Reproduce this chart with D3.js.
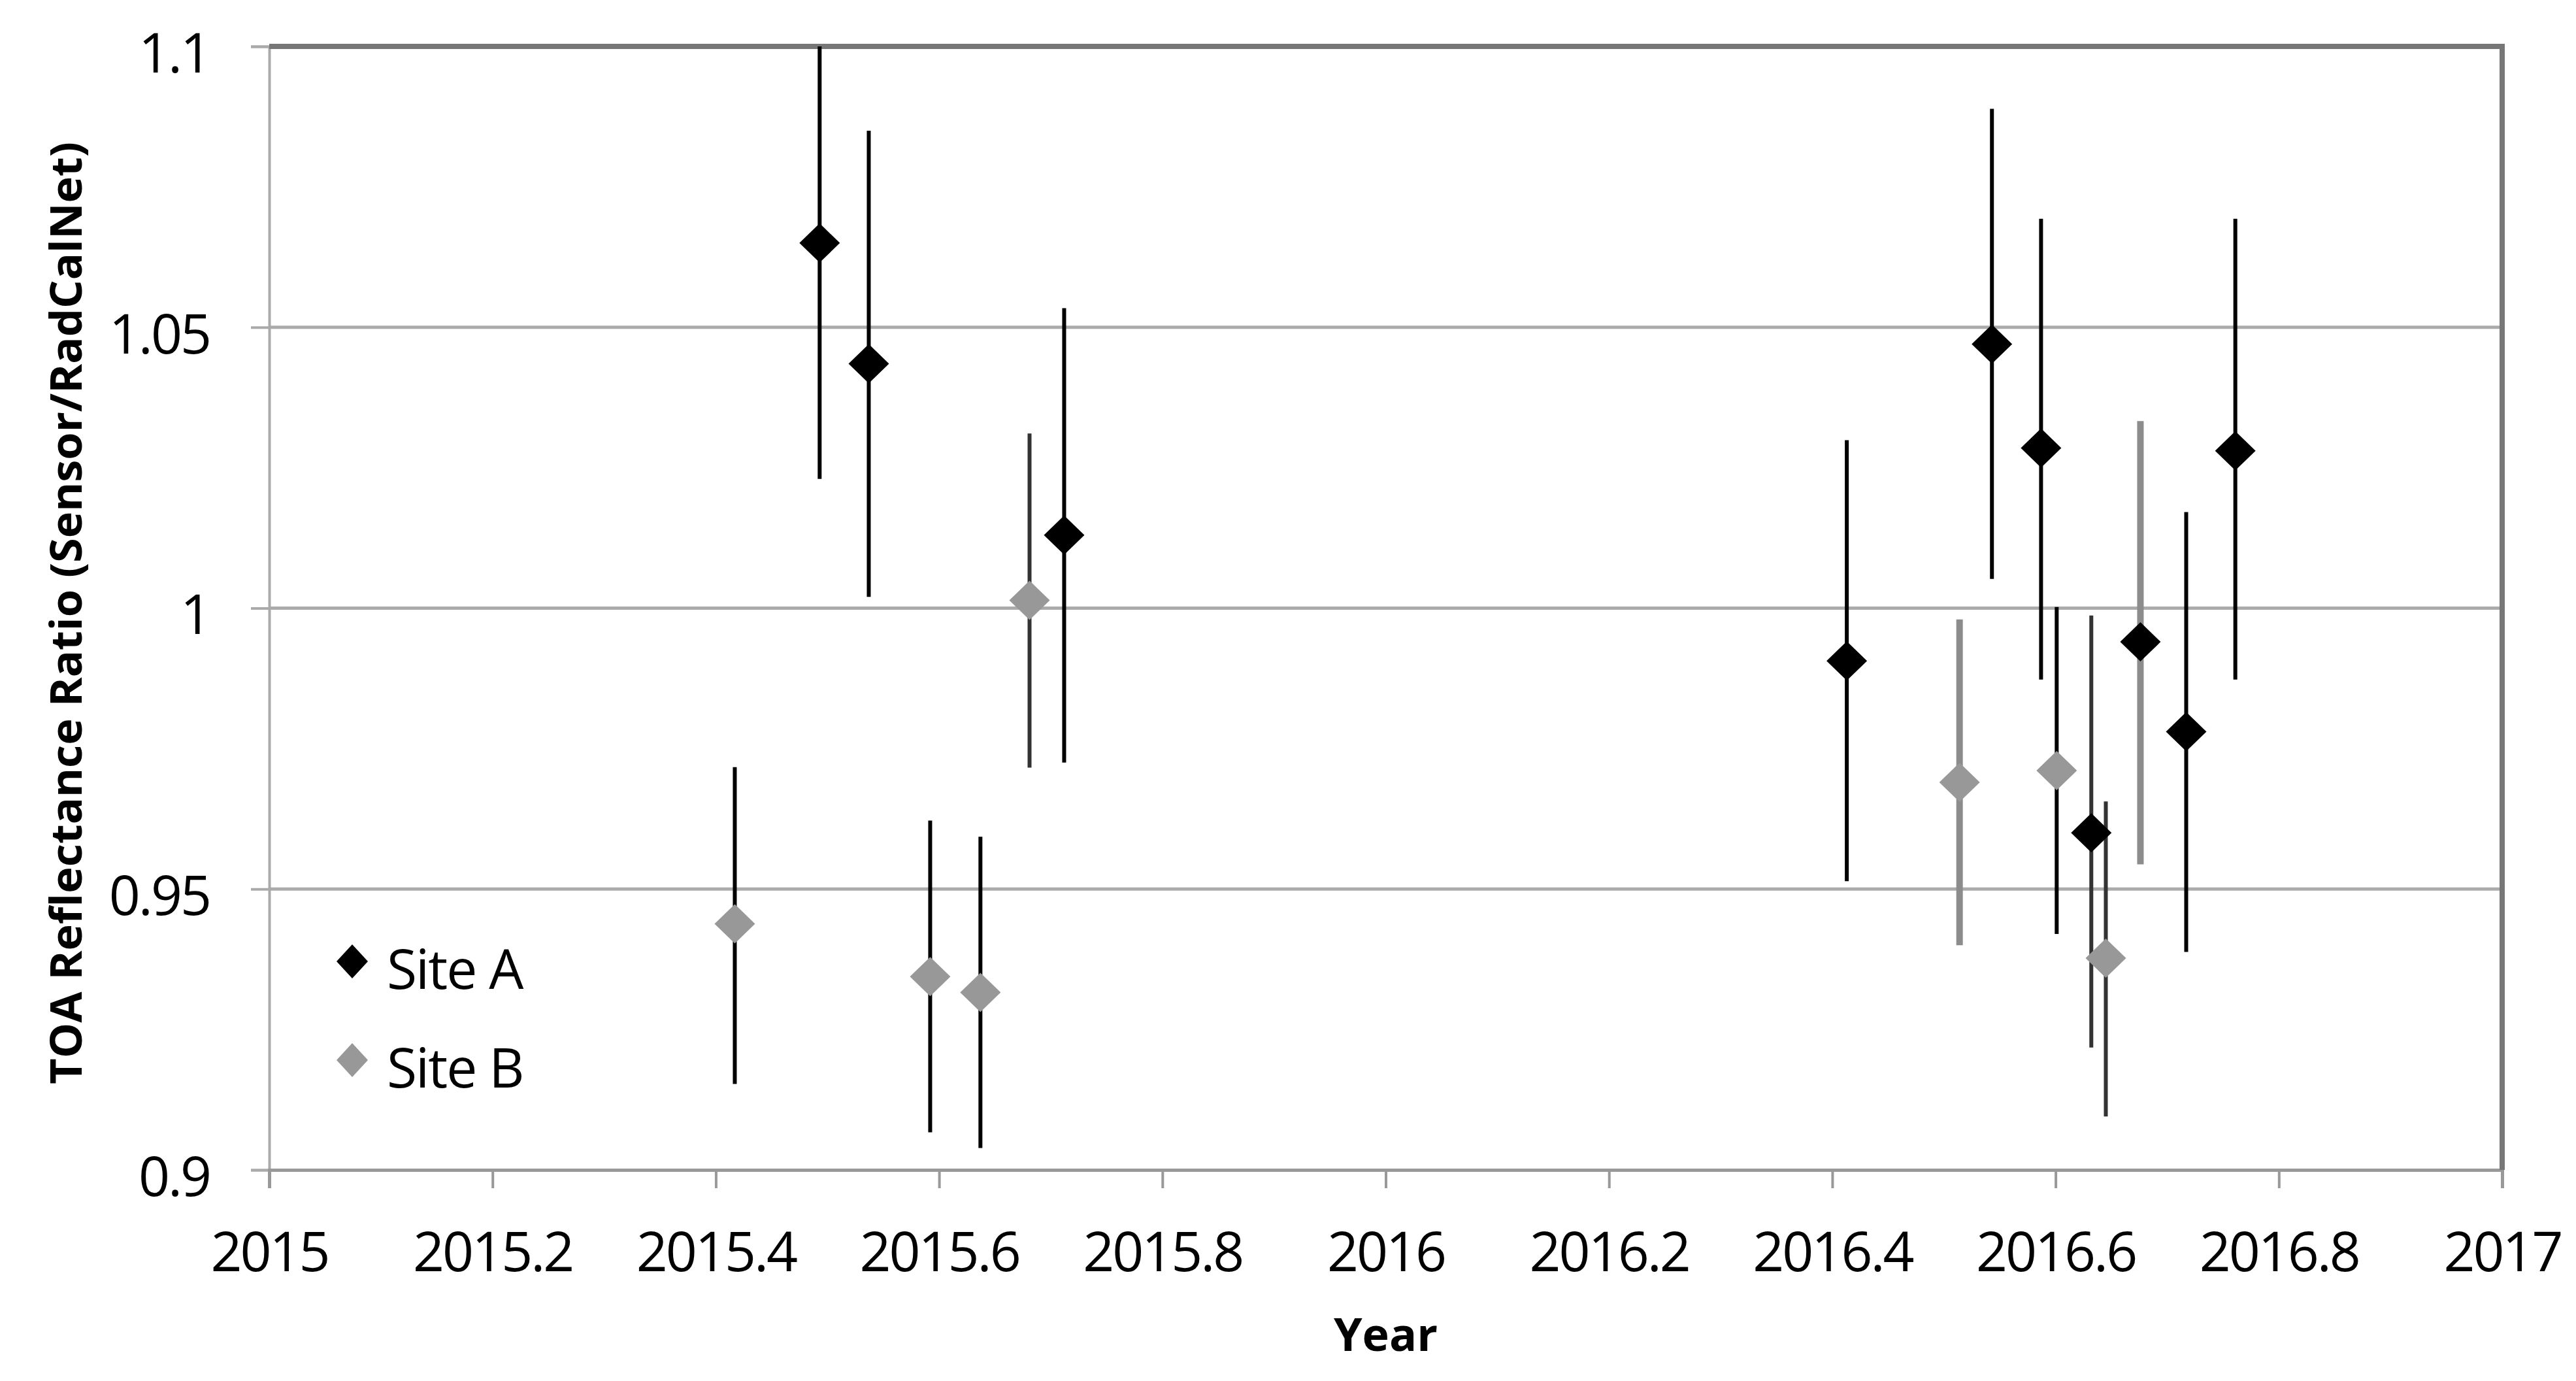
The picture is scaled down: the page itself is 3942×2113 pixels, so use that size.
<!DOCTYPE html>
<html>
<head>
<meta charset="utf-8">
<script src="https://cdn.jsdelivr.net/npm/d3@7"></script>
<style>
  body { margin: 0; background: #fff; }
  text { font-family: "Open Sans", sans-serif; fill: #000; }
</style>
</head>
<body>
<script>
// DATA
var siteAYear  = [2015.493, 2015.537, 2015.712, 2016.413, 2016.543, 2016.587, 2016.632, 2016.676, 2016.717, 2016.761];
var siteAValue = [1.065, 1.0435, 1.013, 0.9906, 1.047, 1.0285, 0.960, 0.994, 0.978, 1.028];

var siteBYear  = [2015.417, 2015.592, 2015.637, 2015.681, 2016.514, 2016.601, 2016.645];
var siteBValue = [0.9438, 0.9344, 0.9316, 1.0014, 0.969, 0.9711, 0.9377];

// error bars [year, low, high], grouped by how they are drawn
var barsBlack = [
  [2015.493, 1.023, 1.107], [2015.537, 1.002, 1.085], [2015.712, 0.9725, 1.0534],
  [2016.413, 0.9514, 1.0299], [2016.543, 1.0052, 1.0889], [2016.587, 0.9873, 1.0693],
  [2016.717, 0.9388, 1.0171], [2016.761, 0.9873, 1.0693],
  [2015.417, 0.9153, 0.9717], [2015.592, 0.9067, 0.9622], [2015.637, 0.9039, 0.9593],
  [2016.601, 0.942, 1.0002]
];
var barsDark = [[2015.681, 0.9716, 1.0311], [2016.645, 0.9095, 0.9656], [2016.632, 0.9218, 0.9987]];
var barsGrey = [[2016.514, 0.940, 0.998], [2016.676, 0.9544, 1.0333]];

var xTicks = [2015, 2015.2, 2015.4, 2015.6, 2015.8, 2016, 2016.2, 2016.4, 2016.6, 2016.8, 2017];
var xTickLabels = ["2015", "2015.2", "2015.4", "2015.6", "2015.8", "2016", "2016.2", "2016.4", "2016.6", "2016.8", "2017"];
var yTicks = [0.9, 0.95, 1, 1.05, 1.1];
var yTickLabels = ["0.9", "0.95", "1", "1.05", "1.1"];
var seriesNames = ["Site A", "Site B"];

var W = 3942, H = 2113;
var margin = { top: 71, right: 113, bottom: 323, left: 412 },
    width = W - margin.left - margin.right,
    height = H - margin.top - margin.bottom;

var svg = d3.select("body").append("svg")
    .attr("width", W)
    .attr("height", H);

svg.append("rect").attr("width", W).attr("height", H).attr("fill", "#fff");

var g = svg.append("g")
    .attr("transform", "translate(" + margin.left + "," + margin.top + ")");

var x = d3.scaleLinear().domain([2015, 2017]).range([0, width]);
var y = d3.scaleLinear().domain([0.9, 1.1]).range([height, 0]);

// gridlines
g.append("g").selectAll("line")
    .data([0.95, 1, 1.05])
    .enter().append("line")
    .attr("x1", 0).attr("x2", width)
    .attr("y1", d => y(d)).attr("y2", d => y(d))
    .attr("stroke", "#ababab")
    .attr("stroke-width", 5);

// axes
var yAxis = d3.axisLeft(y)
    .tickValues(yTicks)
    .tickSize(28)
    .tickPadding(63)
    .tickFormat((d, i) => yTickLabels[i]);

var yG = g.append("g").call(yAxis);
yG.select(".domain").attr("stroke", "#aaa").attr("stroke-width", 4);
yG.selectAll(".tick line").attr("stroke", "#aaa").attr("stroke-width", 4);
yG.selectAll(".tick text")
    .attr("dy", "0.47em")
    .style("font-size", "84px")
    .style("letter-spacing", "-3px");

var xAxis = d3.axisBottom(x)
    .tickValues(xTicks)
    .tickSize(28)
    .tickFormat((d, i) => xTickLabels[i]);

var xG = g.append("g")
    .attr("transform", "translate(0," + height + ")")
    .call(xAxis);
xG.select(".domain").attr("stroke", "#999").attr("stroke-width", 5);
xG.selectAll(".tick line").attr("stroke", "#999").attr("stroke-width", 4);
xG.selectAll(".tick text")
    .attr("y", 155)
    .attr("dy", 0)
    .style("font-size", "84px")
    .style("letter-spacing", "-3px");

// plot area frame (top and right)
g.append("path")
    .attr("d", "M0,0H" + width + "V" + height)
    .attr("fill", "none")
    .attr("stroke", "#777")
    .attr("stroke-width", 8);

// error bars
g.append("clipPath").attr("id", "clip")
    .append("rect").attr("width", width).attr("height", height);

var bars = g.append("g").attr("clip-path", "url(#clip)");

function drawBars(list, color, w) {
    bars.append("g").selectAll("line")
        .data(list)
        .enter().append("line")
        .attr("x1", d => x(d[0])).attr("x2", d => x(d[0]))
        .attr("y1", d => y(d[1])).attr("y2", d => y(d[2]))
        .attr("stroke", color)
        .attr("stroke-width", w);
}
drawBars(barsBlack, "#000", 6);
drawBars(barsDark, "#333", 6);
drawBars(barsGrey, "#8c8c8c", 10);

// markers
function diamond(rx, ry) {
    return "M0," + (-ry) + "L" + rx + ",0L0," + ry + "L" + (-rx) + ",0Z";
}

g.append("g").selectAll("path")
    .data(siteBYear.map((d, i) => [d, siteBValue[i]]))
    .enter().append("path")
    .attr("d", diamond(31, 30))
    .attr("transform", d => "translate(" + x(d[0]) + "," + y(d[1]) + ")")
    .attr("fill", "#989898");

g.append("g").selectAll("path")
    .data(siteAYear.map((d, i) => [d, siteAValue[i]]))
    .enter().append("path")
    .attr("d", diamond(31, 30))
    .attr("transform", d => "translate(" + x(d[0]) + "," + y(d[1]) + ")")
    .attr("fill", "#000");

// legend
var legend = svg.append("g").selectAll("g")
    .data(seriesNames)
    .enter().append("g")
    .attr("transform", (d, i) => "translate(539," + (1471 + i * 151) + ")");

legend.append("path")
    .attr("d", diamond(24, 26))
    .attr("fill", (d, i) => i == 0 ? "#000" : "#989898");

legend.append("text")
    .attr("x", 53)
    .attr("y", 42)
    .style("font-size", "84px")
    .style("letter-spacing", "-2px")
    .text(d => d);

// axis titles
svg.append("text")
    .attr("x", margin.left + width / 2)
    .attr("y", 2067)
    .attr("text-anchor", "middle")
    .style("font-size", "70px")
    .style("font-weight", "bold")
    .text("Year");

svg.append("text")
    .attr("transform", "translate(125,938) rotate(-90)")
    .attr("text-anchor", "middle")
    .attr("textLength", 1442)
    .attr("lengthAdjust", "spacingAndGlyphs")
    .style("font-size", "66px")
    .style("font-weight", "bold")
    .text("TOA Reflectance Ratio (Sensor/RadCalNet)");
</script>
</body>
</html>
